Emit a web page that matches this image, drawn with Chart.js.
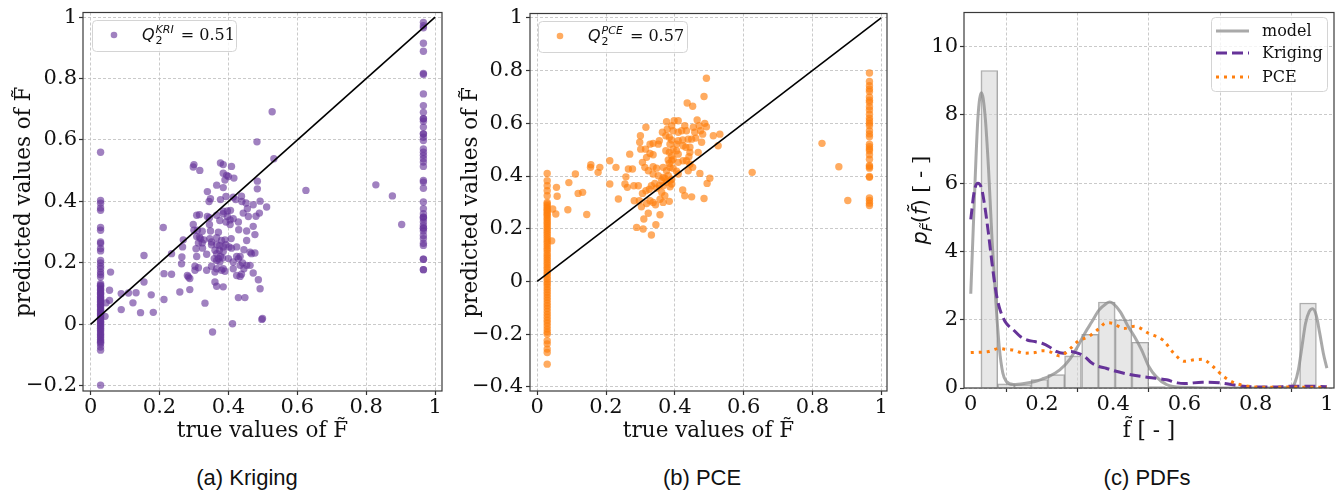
<!DOCTYPE html>
<html>
<head>
    <style>
        body {
            margin: 0;
            width: 1344px;
            height: 496px;
            background: #fff;
            position: relative;
            overflow: hidden;
        }
        .panel {
            position: absolute;
            top: 0;
        }
        .caption {
            position: absolute;
            top: 465px;
            font-family: "Liberation Sans", Arial, sans-serif;
            font-size: 22px;
            color: #111;
            transform: translateX(-50%);
            white-space: nowrap;
        }
    </style>
    <script src="https://cdn.jsdelivr.net/npm/chart.js"></script>
</head>
<body>
    <div class="panel" style="left:0px"><canvas id="chartA" width="450" height="450"></canvas></div>
    <div class="panel" style="left:450px"><canvas id="chartB" width="450" height="450"></canvas></div>
    <div class="panel" style="left:900px"><canvas id="chartC" width="444" height="450"></canvas></div>
    <div class="caption" style="left:247px">(a) Kriging</div>
    <div class="caption" style="left:702px">(b) PCE</div>
    <div class="caption" style="left:1147px">(c) PDFs</div>
    <script>
        // ---------- data ----------
        // true values cluster at two levels near 0 and near 1
        var lowTrue = 0.029;
        var highTrue = 0.966;

        // (a) Kriging predictions
        var kriLow = [0.560, 0.403, 0.394, 0.379, 0.371, 0.315, 0.306, 0.268, 0.263, 0.247, 0.239, 0.208,
            0.200, 0.189, 0.181, 0.170, 0.162, 0.154, 0.132, 0.127, 0.124, 0.118, 0.113, 0.110, 0.104, 0.100,
            0.097, 0.091, 0.087, 0.083, 0.079, 0.074, 0.071, 0.065, 0.061, 0.058, 0.053, 0.048, 0.044, 0.040,
            0.035, 0.031, 0.027, 0.022, 0.018, 0.014, 0.009, 0.005, 0.001, -0.004, -0.008, -0.013, -0.018,
            -0.022, -0.028, -0.033, -0.038, -0.043, -0.049, -0.054, -0.058, -0.063, -0.074, -0.084, -0.198];
        var kriHigh = [0.983, 0.972, 0.965, 0.915, 0.889, 0.817, 0.813, 0.750, 0.712, 0.690, 0.669, 0.669,
            0.661, 0.642, 0.620, 0.620, 0.609, 0.598, 0.571, 0.560, 0.550, 0.539, 0.528, 0.514, 0.468, 0.463,
            0.443, 0.398, 0.376, 0.360, 0.349, 0.349, 0.344, 0.333, 0.322, 0.313, 0.313, 0.304, 0.289, 0.279,
            0.264, 0.257, 0.212, 0.212, 0.178, 0.178];
        var kriMid = [
            [0.058, 0.170], [0.055, 0.111], [0.055, 0.078], [0.045, 0.070], [0.042, 0.026], [0.089, 0.100],
            [0.089, 0.048], [0.110, 0.102], [0.123, 0.070], [0.132, 0.103], [0.145, 0.038], [0.155, 0.224],
            [0.155, 0.138], [0.176, 0.096], [0.182, 0.039], [0.211, 0.315], [0.213, 0.165], [0.213, 0.081],
            [0.300, 0.520], [0.298, 0.512], [0.317, 0.501], [0.377, 0.525], [0.385, 0.520], [0.409, 0.514],
            [0.385, 0.492], [0.395, 0.485], [0.400, 0.481], [0.416, 0.476], [0.390, 0.470], [0.366, 0.453],
            [0.385, 0.445], [0.484, 0.466], [0.484, 0.441], [0.339, 0.432], [0.348, 0.409], [0.344, 0.400],
            [0.377, 0.406], [0.393, 0.416], [0.414, 0.414], [0.421, 0.406], [0.439, 0.400], [0.438, 0.417],
            [0.451, 0.395], [0.472, 0.389], [0.492, 0.401], [0.511, 0.382], [0.455, 0.376], [0.385, 0.368],
            [0.397, 0.369], [0.406, 0.371], [0.308, 0.355], [0.316, 0.357], [0.339, 0.351], [0.345, 0.347],
            [0.366, 0.355], [0.385, 0.360], [0.397, 0.351], [0.405, 0.340], [0.414, 0.344], [0.429, 0.333],
            [0.443, 0.362], [0.458, 0.351], [0.480, 0.352], [0.490, 0.362], [0.298, 0.325], [0.345, 0.325],
            [0.375, 0.338], [0.393, 0.333], [0.405, 0.325], [0.430, 0.308], [0.472, 0.319], [0.300, 0.306],
            [0.310, 0.306], [0.324, 0.303], [0.348, 0.304], [0.371, 0.300], [0.453, 0.304], [0.308, 0.286],
            [0.316, 0.284], [0.319, 0.279], [0.329, 0.275], [0.346, 0.279], [0.313, 0.265], [0.324, 0.265],
            [0.269, 0.275], [0.351, 0.268], [0.366, 0.282], [0.380, 0.273], [0.390, 0.275], [0.408, 0.279],
            [0.453, 0.273], [0.477, 0.292], [0.267, 0.252], [0.306, 0.246], [0.325, 0.248], [0.351, 0.259],
            [0.366, 0.260], [0.375, 0.257], [0.385, 0.252], [0.393, 0.259], [0.402, 0.252], [0.409, 0.248],
            [0.424, 0.252], [0.445, 0.243], [0.463, 0.235], [0.467, 0.230], [0.477, 0.232], [0.235, 0.230],
            [0.265, 0.219], [0.308, 0.221], [0.337, 0.228], [0.361, 0.241], [0.366, 0.230], [0.374, 0.241],
            [0.377, 0.221], [0.385, 0.237], [0.359, 0.214], [0.371, 0.214], [0.383, 0.216], [0.400, 0.214],
            [0.424, 0.221], [0.429, 0.214], [0.434, 0.221], [0.264, 0.197], [0.303, 0.189], [0.313, 0.184],
            [0.351, 0.189], [0.366, 0.208], [0.375, 0.203], [0.414, 0.203], [0.434, 0.192], [0.441, 0.200],
            [0.453, 0.192], [0.463, 0.192], [0.445, 0.181], [0.235, 0.163], [0.281, 0.159], [0.284, 0.154],
            [0.303, 0.176], [0.288, 0.149], [0.337, 0.176], [0.366, 0.181], [0.361, 0.170], [0.380, 0.176],
            [0.385, 0.181], [0.390, 0.173], [0.414, 0.181], [0.424, 0.159], [0.434, 0.156], [0.438, 0.163],
            [0.472, 0.167], [0.487, 0.145], [0.361, 0.138], [0.366, 0.124], [0.385, 0.122], [0.492, 0.116],
            [0.259, 0.105], [0.288, 0.113], [0.429, 0.087], [0.448, 0.087], [0.332, 0.069], [0.412, 0.002],
            [0.497, 0.016], [0.499, 0.019], [0.354, -0.025], [0.527, 0.692], [0.483, 0.594], [0.532, 0.539],
            [0.625, 0.436], [0.828, 0.454], [0.876, 0.418], [0.903, 0.325]
        ];

        // (b) PCE predictions
        var pceLow = [0.410, 0.382, 0.363, 0.344, 0.325, 0.300, 0.294, 0.287, 0.281, 0.274, 0.268, 0.262,
            0.255, 0.249, 0.241, 0.234, 0.226, 0.219, 0.211, 0.203, 0.195, 0.187, 0.178, 0.170, 0.161, 0.152,
            0.144, 0.135, 0.126, 0.118, 0.108, 0.099, 0.090, 0.081, 0.072, 0.063, 0.054, 0.045, 0.036, 0.027,
            0.017, 0.008, -0.002, -0.011, -0.021, -0.031, -0.041, -0.051, -0.061, -0.071, -0.082, -0.092,
            -0.103, -0.114, -0.125, -0.136, -0.147, -0.158, -0.169, -0.181, -0.192, -0.200, -0.225, -0.237,
            -0.257, -0.270, -0.314];
        var pceHigh = [0.791, 0.759, 0.743, 0.730, 0.721, 0.700, 0.688, 0.680, 0.663, 0.651, 0.635, 0.620,
            0.610, 0.600, 0.591, 0.572, 0.560, 0.549, 0.521, 0.511, 0.503, 0.496, 0.481, 0.464, 0.440, 0.435,
            0.430, 0.398, 0.395, 0.317, 0.307, 0.297, 0.288];
        var pceMid = [
            [0.492, 0.771], [0.485, 0.702], [0.436, 0.677], [0.452, 0.665], [0.316, 0.585], [0.376, 0.606],
            [0.398, 0.610], [0.410, 0.610], [0.391, 0.591], [0.378, 0.578], [0.364, 0.566], [0.374, 0.553],
            [0.395, 0.572], [0.410, 0.566], [0.420, 0.572], [0.429, 0.591], [0.434, 0.572], [0.454, 0.585],
            [0.465, 0.613], [0.471, 0.591], [0.487, 0.600], [0.492, 0.587], [0.475, 0.572], [0.458, 0.566],
            [0.481, 0.559], [0.512, 0.553], [0.531, 0.559], [0.439, 0.540], [0.449, 0.540], [0.461, 0.544],
            [0.423, 0.537], [0.410, 0.534], [0.405, 0.521], [0.391, 0.537], [0.384, 0.547], [0.355, 0.534],
            [0.352, 0.521], [0.337, 0.524], [0.300, 0.553], [0.298, 0.528], [0.328, 0.521], [0.386, 0.521],
            [0.478, 0.528], [0.526, 0.515], [0.424, 0.515], [0.432, 0.509], [0.444, 0.509], [0.405, 0.496],
            [0.410, 0.483], [0.395, 0.502], [0.374, 0.496], [0.384, 0.490], [0.391, 0.477], [0.468, 0.490],
            [0.444, 0.490], [0.441, 0.473], [0.301, 0.502], [0.315, 0.502], [0.269, 0.483], [0.328, 0.486],
            [0.337, 0.481], [0.318, 0.471], [0.306, 0.452], [0.211, 0.458], [0.229, 0.433], [0.265, 0.427],
            [0.277, 0.427], [0.313, 0.433], [0.337, 0.435], [0.323, 0.420], [0.347, 0.430], [0.366, 0.433],
            [0.381, 0.461], [0.391, 0.458], [0.384, 0.448], [0.395, 0.464], [0.410, 0.452], [0.424, 0.458],
            [0.434, 0.458], [0.444, 0.445], [0.386, 0.433], [0.395, 0.430], [0.376, 0.420], [0.405, 0.418],
            [0.410, 0.408], [0.439, 0.420], [0.452, 0.433], [0.337, 0.408], [0.352, 0.401], [0.366, 0.395],
            [0.362, 0.382], [0.371, 0.392], [0.381, 0.401], [0.386, 0.382], [0.391, 0.388], [0.391, 0.370],
            [0.386, 0.359], [0.376, 0.376], [0.366, 0.363], [0.355, 0.363], [0.342, 0.372], [0.347, 0.354],
            [0.332, 0.363], [0.326, 0.350], [0.316, 0.344], [0.306, 0.334], [0.294, 0.363], [0.281, 0.363],
            [0.258, 0.397], [0.255, 0.370], [0.262, 0.357], [0.211, 0.370], [0.473, 0.410], [0.502, 0.392],
            [0.494, 0.372], [0.423, 0.347], [0.429, 0.325], [0.449, 0.321], [0.485, 0.315], [0.362, 0.338],
            [0.371, 0.325], [0.357, 0.312], [0.366, 0.300], [0.384, 0.304], [0.328, 0.306], [0.337, 0.300],
            [0.318, 0.296], [0.282, 0.306], [0.297, 0.306], [0.303, 0.283], [0.344, 0.291], [0.323, 0.259],
            [0.310, 0.237], [0.357, 0.253], [0.345, 0.215], [0.289, 0.205], [0.308, 0.199], [0.332, 0.176],
            [0.236, 0.313], [0.156, 0.443], [0.155, 0.433], [0.177, 0.414], [0.182, 0.433], [0.111, 0.408],
            [0.092, 0.375], [0.119, 0.334], [0.132, 0.338], [0.144, 0.254], [0.089, 0.272], [0.056, 0.357],
            [0.058, 0.323], [0.054, 0.256], [0.042, 0.154], [0.045, 0.275], [0.828, 0.524], [0.877, 0.435],
            [0.903, 0.307], [0.625, 0.414]
        ];

        // (c) histogram of the model output and kernel density estimates
        var histCenters = [0.052, 0.099, 0.146, 0.193, 0.240, 0.287, 0.335, 0.382, 0.429, 0.476,
            0.523, 0.570, 0.617, 0.664, 0.711, 0.758, 0.806, 0.853, 0.900, 0.947];
        var histHeights = [9.30, 0.12, 0.10, 0.25, 0.39, 0.94, 1.57, 2.52, 2.00, 1.34,
            0.04, 0, 0, 0, 0, 0, 0, 0, 0, 2.49];
        var modelX = [0, 0.01, 0.02, 0.03, 0.04, 0.05, 0.06, 0.07, 0.08, 0.09, 0.10, 0.12, 0.15, 0.18, 0.20,
            0.22, 0.25, 0.28, 0.30, 0.32, 0.34, 0.36, 0.38, 0.39, 0.40, 0.42, 0.44, 0.46, 0.48, 0.50, 0.52,
            0.55, 0.60, 0.70, 0.80, 0.90, 0.91, 0.92, 0.93, 0.94, 0.95, 0.96, 0.97, 0.98, 0.99, 1.0];
        var modelY = [2.76, 5.5, 7.9, 8.65, 8.0, 6.4, 4.3, 2.6, 1.2, 0.44, 0.19, 0.10, 0.13, 0.19, 0.26,
            0.34, 0.53, 0.87, 1.21, 1.60, 1.94, 2.28, 2.47, 2.52, 2.47, 2.23, 1.84, 1.50, 1.11, 0.63, 0.34,
            0.10, 0.02, 0.0, 0.0, 0.02, 0.15, 0.53, 1.21, 1.89, 2.23, 2.32, 2.13, 1.60, 1.02, 0.58];
        var krigX = [0, 0.01, 0.02, 0.03, 0.04, 0.05, 0.06, 0.07, 0.08, 0.09, 0.10, 0.12, 0.14, 0.16, 0.18,
            0.20, 0.22, 0.24, 0.26, 0.28, 0.30, 0.32, 0.34, 0.36, 0.38, 0.40, 0.45, 0.50, 0.55, 0.58, 0.60,
            0.65, 0.70, 0.75, 0.80, 0.85, 0.90, 0.95, 1.0];
        var krigY = [4.94, 5.77, 6.0, 5.86, 5.28, 4.5, 3.63, 2.86, 2.37, 2.08, 1.89, 1.70, 1.50, 1.40, 1.36,
            1.31, 1.21, 1.07, 1.02, 1.07, 1.02, 0.92, 0.73, 0.63, 0.58, 0.51, 0.39, 0.31, 0.24, 0.15, 0.13,
            0.17, 0.15, 0.07, 0.03, 0.03, 0.05, 0.05, 0.04];
        var pceX = [0, 0.05, 0.08, 0.10, 0.12, 0.15, 0.18, 0.20, 0.22, 0.25, 0.28, 0.30, 0.33, 0.36, 0.38,
            0.40, 0.43, 0.46, 0.50, 0.54, 0.57, 0.60, 0.63, 0.65, 0.68, 0.71, 0.74, 0.77, 0.80, 0.85, 0.90,
            0.95, 1.0];
        var pceY = [1.04, 1.07, 1.16, 1.13, 1.11, 1.02, 1.04, 1.09, 1.07, 0.94, 1.16, 1.36, 1.50, 1.74, 1.91,
            1.89, 1.74, 1.81, 1.60, 1.40, 1.02, 0.78, 0.83, 0.84, 0.63, 0.34, 0.15, 0.07, 0.03, 0.02, 0.03,
            0.02, 0.02];

        // identity line and tick values
        var diagLine = [0, 1];
        var unitTicks = [0, 0.2, 0.4, 0.6, 0.8, 1];
        var yTicksA = [-0.2, 0, 0.2, 0.4, 0.6, 0.8, 1];
        var yTicksB = [-0.4, -0.2, 0, 0.2, 0.4, 0.6, 0.8, 1];
        var yTicksC = [0, 2, 4, 6, 8, 10];
        var q2Kri = '0.51';
        var q2Pce = '0.57';

        // ---------- helpers ----------
        var serif = '"DejaVu Serif", serif';

        function fmt(v) {
            return String(Math.round(v * 100) / 100).replace('-', '\u2212');
        }

        function toPoints(xs, ys) {
            return xs.map(function (x, i) { return { x: x, y: ys[i] }; });
        }

        function scatterPoints(low, high, mid) {
            var pts = low.map(function (y) { return { x: lowTrue, y: y }; });
            pts = pts.concat(high.map(function (y) { return { x: highTrue, y: y }; }));
            return pts.concat(mid.map(function (p) { return { x: p[0], y: p[1] }; }));
        }

        function axis(ticks, min, max, boxSize, title, titlePad, labelPad) {
            return {
                type: 'linear',
                min: min,
                max: max,
                offset: false,
                afterBuildTicks: function (s) { s.ticks = ticks.map(function (v) { return { value: v }; }); },
                afterFit: function (s) { if (s.isHorizontal()) s.height = boxSize; else s.width = boxSize; },
                ticks: {
                    autoSkip: false, maxRotation: 0, padding: labelPad, color: '#111',
                    font: { family: serif, size: 21, lineHeight: 1 },
                    callback: function (v) { return fmt(v); }
                },
                grid: { color: '#bdbdbd', lineWidth: 0.8, tickLength: 4, tickColor: '#333', tickWidth: 1.2 },
                border: { display: false, dash: [3, 2] },
                title: title ? {
                    display: true, text: title, color: '#111',
                    font: { family: serif, size: 21.5, lineHeight: 1.2 }, padding: titlePad
                } : { display: false }
            };
        }

        // matplotlib-like frame around the axes
        var framePlugin = {
            id: 'frame',
            afterDatasetsDraw: function (chart) {
                var a = chart.chartArea, ctx = chart.ctx;
                ctx.save();
                ctx.strokeStyle = '#3a3a3a';
                ctx.lineWidth = 1.2;
                ctx.strokeRect(a.left, a.top, a.right - a.left, a.bottom - a.top);
                ctx.restore();
            }
        };

        function legendBox(ctx, b) {
            ctx.beginPath();
            ctx.roundRect(b[0] + 0.5, b[1] + 0.5, b[2] - b[0], b[3] - b[1], 4);
            ctx.fillStyle = 'rgba(255,255,255,0.8)';
            ctx.fill();
            ctx.strokeStyle = '#d4d4d4';
            ctx.lineWidth = 1;
            ctx.stroke();
        }

        // legend with Q_2^{...} = value
        var qLegendPlugin = {
            id: 'qLegend',
            afterDraw: function (chart, args, o) {
                var ctx = chart.ctx;
                var ds = chart.data.datasets[o.dataset];
                ctx.save();
                legendBox(ctx, o.box);
                ctx.fillStyle = ds.backgroundColor;
                ctx.beginPath();
                ctx.arc(o.marker[0], o.marker[1], 3.3, 0, Math.PI * 2);
                ctx.fill();
                var x = o.text[0], y = o.text[1];
                ctx.fillStyle = '#111';
                ctx.textBaseline = 'alphabetic';
                ctx.font = 'italic 16px "DejaVu Sans"';
                ctx.fillText('Q', x, y);
                x += ctx.measureText('Q').width + 1;
                ctx.font = 'italic 11px "DejaVu Sans"';
                ctx.fillText(o.sup, x, y - 7);
                var w = ctx.measureText(o.sup).width;
                ctx.font = '11px "DejaVu Sans"';
                ctx.fillText('2', x, y + 4);
                x += w + 2;
                ctx.font = '16px ' + serif;
                ctx.fillText(' = ' + o.value, x, y);
                ctx.restore();
            }
        };

        // legend with line samples for the PDF panel
        var lineLegendPlugin = {
            id: 'lineLegend',
            afterDraw: function (chart, args, o) {
                var ctx = chart.ctx;
                ctx.save();
                legendBox(ctx, o.box);
                o.items.forEach(function (idx, i) {
                    var ds = chart.data.datasets[idx];
                    var y = o.rows[i];
                    ctx.strokeStyle = ds.borderColor;
                    ctx.lineWidth = ds.borderWidth;
                    ctx.setLineDash(ds.borderDash || []);
                    ctx.beginPath();
                    ctx.moveTo(o.line[0], y);
                    ctx.lineTo(o.line[1], y);
                    ctx.stroke();
                    ctx.setLineDash([]);
                    ctx.fillStyle = '#111';
                    ctx.font = '16px ' + serif;
                    ctx.textBaseline = 'middle';
                    ctx.fillText(ds.label, o.textX, y + 1);
                });
                ctx.restore();
            }
        };

        // rotated y title p_F(f) [ - ] with a subscript
        var pdfTitlePlugin = {
            id: 'pdfTitle',
            afterDraw: function (chart, args, o) {
                var ctx = chart.ctx, a = chart.chartArea;
                var runs = [
                    { t: 'p', f: 'italic 21px "DejaVu Sans"', dy: 0 },
                    { t: 'F\u0303', f: 'italic 14px "DejaVu Sans"', dy: 5 },
                    { t: '(', f: '21px "DejaVu Sans"', dy: 0 },
                    { t: 'f\u0303', f: 'italic 21px "DejaVu Sans"', dy: 0 },
                    { t: ')', f: '21px "DejaVu Sans"', dy: 0 },
                    { t: ' [ - ]', f: '21px ' + serif, dy: 0 }
                ];
                ctx.save();
                var total = 0;
                runs.forEach(function (r) { ctx.font = r.f; r.w = ctx.measureText(r.t).width; total += r.w; });
                ctx.translate(o.x, (a.top + a.bottom) / 2);
                ctx.rotate(-Math.PI / 2);
                ctx.fillStyle = '#111';
                ctx.textBaseline = 'alphabetic';
                var x = -total / 2;
                runs.forEach(function (r) { ctx.font = r.f; ctx.fillText(r.t, x, 7 + r.dy); x += r.w; });
                ctx.restore();
            }
        };

        var purple = '#663399';
        var orange = '#ff7f0e';

        // ---------- (a) Kriging ----------
        new Chart(document.getElementById('chartA'), {
            type: 'scatter',
            data: {
                datasets: [{
                    label: 'identity', data: diagLine.map(function (v) { return { x: v, y: v }; }),
                    showLine: true, borderColor: '#000', borderWidth: 1.6, pointRadius: 0, order: 0
                }, {
                    label: 'Kriging', data: scatterPoints(kriLow, kriHigh, kriMid),
                    backgroundColor: 'rgba(102,51,153,0.62)', pointRadius: 3.7, borderWidth: 0, order: 1
                }]
            },
            options: {
                responsive: false,
                animation: false,
                layout: { padding: { top: 12, right: 8, left: 0, bottom: 0 } },
                plugins: {
                    legend: { display: false },
                    tooltip: { enabled: false },
                    qLegend: { dataset: 1, box: [92, 20, 236, 51], marker: [114, 35], text: [142, 40], sup: 'KRI', value: q2Kri }
                },
                scales: {
                    x: axis(unitTicks, -0.022, 1.02, 59, 'true values of F\u0303', { top: 0, bottom: 6 }, 2),
                    y: axis(yTicksA, -0.217, 1.015, 83, 'predicted values of F\u0303', { top: 12, bottom: 0 }, 2)
                }
            },
            plugins: [framePlugin, qLegendPlugin]
        });

        // ---------- (b) PCE ----------
        new Chart(document.getElementById('chartB'), {
            type: 'scatter',
            data: {
                datasets: [{
                    label: 'identity', data: diagLine.map(function (v) { return { x: v, y: v }; }),
                    showLine: true, borderColor: '#000', borderWidth: 1.6, pointRadius: 0, order: 0
                }, {
                    label: 'PCE', data: scatterPoints(pceLow, pceHigh, pceMid),
                    backgroundColor: 'rgba(255,127,14,0.66)', pointRadius: 3.7, borderWidth: 0, order: 1
                }]
            },
            options: {
                responsive: false,
                animation: false,
                layout: { padding: { top: 13, right: 13, left: 0, bottom: 0 } },
                plugins: {
                    legend: { display: false },
                    tooltip: { enabled: false },
                    qLegend: { dataset: 1, box: [88, 21, 237, 52], marker: [110, 36], text: [138, 41], sup: 'PCE', value: q2Pce }
                },
                scales: {
                    x: axis(unitTicks, -0.021, 1.017, 59, 'true values of F\u0303', { top: 0, bottom: 6 }, 2),
                    y: axis(yTicksB, -0.416, 1.017, 80, 'predicted values of F\u0303', { top: 9, bottom: 0 }, 3)
                }
            },
            plugins: [framePlugin, qLegendPlugin]
        });

        // ---------- (c) PDFs ----------
        new Chart(document.getElementById('chartC'), {
            type: 'bar',
            data: {
                datasets: [{
                    type: 'bar', label: 'histogram', data: toPoints(histCenters, histHeights),
                    backgroundColor: 'rgba(211,211,211,0.55)', borderColor: 'rgba(110,110,110,0.6)',
                    borderWidth: 1, barPercentage: 1, categoryPercentage: 1, order: 10
                }, {
                    type: 'line', label: 'model', data: toPoints(modelX, modelY),
                    borderColor: 'rgba(140,140,140,0.75)', borderWidth: 3, pointRadius: 0,
                    cubicInterpolationMode: 'monotone', order: 3
                }, {
                    type: 'line', label: 'Kriging', data: toPoints(krigX, krigY),
                    borderColor: purple, borderWidth: 3, borderDash: [11, 5], pointRadius: 0,
                    cubicInterpolationMode: 'monotone', order: 2
                }, {
                    type: 'line', label: 'PCE', data: toPoints(pceX, pceY),
                    borderColor: orange, borderWidth: 3, borderDash: [3, 5], pointRadius: 0,
                    cubicInterpolationMode: 'monotone', order: 1
                }]
            },
            options: {
                responsive: false,
                animation: false,
                layout: { padding: { top: 10, right: 10, left: 0, bottom: 0 } },
                plugins: {
                    legend: { display: false },
                    tooltip: { enabled: false },
                    lineLegend: { items: [1, 2, 3], box: [311, 17, 427, 91], rows: [31, 53, 77], line: [316, 349], textX: 362 },
                    pdfTitle: { x: 20 }
                },
                scales: {
                    x: axis(unitTicks, -0.019, 1.02, 62, 'f\u0303 [ - ]', { top: 0, bottom: 6 }, 2),
                    y: axis(yTicksC, 0, 11, 64, null, null, 2)
                }
            },
            plugins: [framePlugin, lineLegendPlugin, pdfTitlePlugin]
        });
    </script>
</body>
</html>
